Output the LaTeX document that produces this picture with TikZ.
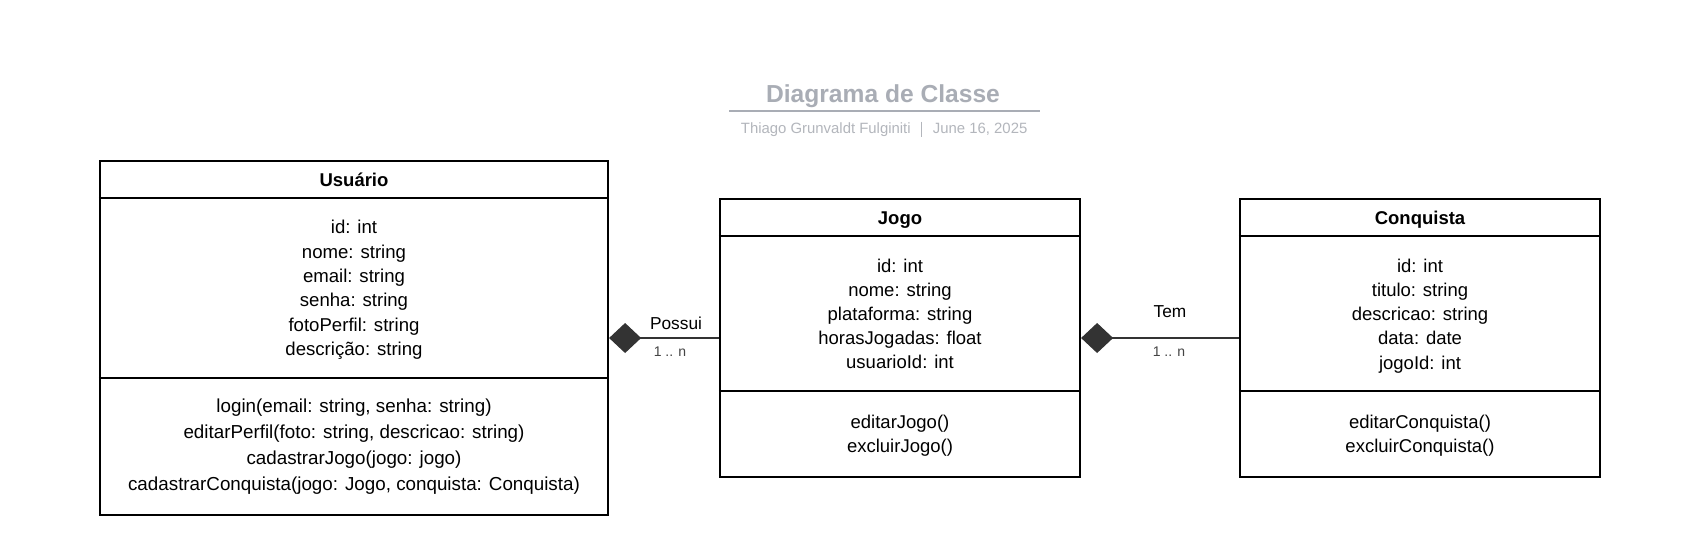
\documentclass[tikz,border=0pt]{standalone}
\usepackage{fontspec}
\setmainfont{Liberation Sans}
\usetikzlibrary{arrows.meta}
\definecolor{titlegray}{HTML}{A9ADB5}
\definecolor{subgray}{HTML}{B3B6BC}
\definecolor{linkgray}{HTML}{333333}
\definecolor{multgray}{HTML}{444444}
\begin{document}
\begin{tikzpicture}[x=1pt,y=-1pt,
  classbox/.style={draw=black, line width=2.2pt, rectangle, inner sep=0pt},
  sepline/.style={draw=black, line width=2.2pt},
  ctitle/.style={font=\bfseries\fontsize{18.5}{22}\selectfont, inner sep=0pt},
  attrs/.style={align=center, inner sep=0pt, font=\fontsize{18.6}{24.3}\selectfont},
  meths/.style={align=center, inner sep=0pt, font=\fontsize{18.8}{26}\selectfont},
  link/.style={draw=linkgray, line width=1.2pt, arrows={Diamond[length=32pt,width=30pt]-}},
  lbl/.style={font=\fontsize{17.3}{20}\selectfont, inner sep=0pt, text=black},
  mult/.style={font=\fontsize{14}{16}\selectfont, inner sep=0pt, text=multgray},
  sub/.style={font=\fontsize{14.9}{18}\selectfont, inner sep=0pt, text=subgray, anchor=base west}]
\useasboundingbox (0,0) rectangle (1696,542);
\fill[white] (0,0) rectangle (1696,542);

% title block
\node[font=\bfseries\fontsize{24.6}{28}\selectfont, text=titlegray, anchor=base, inner sep=0pt] (title) at (883,102.5) {Diagrama de Classe};
\draw[titlegray, line width=2pt] (729,110.7) -- (1040,110.7);
\node[sub] (author) at (740.7,133.5) {Thiago Grunvaldt Fulginiti};
\node[sub] (date) at (932.7,133.5) {June 16, 2025};
\draw[subgray, line width=1pt] (921.7,121.5) -- (921.7,136.5);

% Usuario
\node[classbox, minimum width=508pt, minimum height=354pt] (usuario) at (354,338) {};
\draw[sepline] (usuario.west |- 0,198) -- (usuario.east |- 0,198);
\draw[sepline] (usuario.west |- 0,378) -- (usuario.east |- 0,378);
\node[ctitle] (usuarioT) at (354,179.5) {Usuário};
\node[attrs] (usuarioA) at (354,289.8) {id: int\\nome: string\\email: string\\senha: string\\fotoPerfil: string\\descrição: string};
\node[meths] (usuarioM) at (354,447) {login(email: string, senha: string)\\editarPerfil(foto: string, descricao: string)\\cadastrarJogo(jogo: jogo)\\cadastrarConquista(jogo: Jogo, conquista: Conquista)};

% Jogo
\node[classbox, minimum width=360pt, minimum height=278pt] (jogo) at (900,338) {};
\draw[sepline] (jogo.west |- 0,236) -- (jogo.east |- 0,236);
\draw[sepline] (jogo.west |- 0,391) -- (jogo.east |- 0,391);
\node[ctitle] (jogoT) at (900,220) {Jogo};
\node[attrs, font=\fontsize{18.5}{24.2}\selectfont] (jogoA) at (900,313.8) {id: int\\nome: string\\plataforma: string\\horasJogadas: float\\usuarioId: int};
\node[attrs, font=\fontsize{18.5}{24}\selectfont] (jogoM) at (900,436) {editarJogo()\\excluirJogo()};

% Conquista
\node[classbox, minimum width=360pt, minimum height=278pt] (conquista) at (1420,338) {};
\draw[sepline] (conquista.west |- 0,236) -- (conquista.east |- 0,236);
\draw[sepline] (conquista.west |- 0,391) -- (conquista.east |- 0,391);
\node[ctitle] (conquistaT) at (1420,220) {Conquista};
\node[attrs, font=\fontsize{18.5}{24.2}\selectfont] (conquistaA) at (1420,316) {id: int\\titulo: string\\descricao: string\\data: date\\jogoId: int};
\node[attrs, font=\fontsize{18.5}{24}\selectfont] (conquistaM) at (1420,436) {editarConquista()\\excluirConquista()};

% connectors
\draw[link] (usuario.east) -- (jogo.west);
\draw[link] (jogo.east) -- (conquista.west);
\node[lbl] (possui) at (676,323) {Possui};
\node[mult] (mult1) at (670,351.7) {1 .. n};
\node[lbl] (tem) at (1170,311.7) {Tem};
\node[mult] (mult2) at (1169,351.7) {1 .. n};
\end{tikzpicture}
\end{document}
